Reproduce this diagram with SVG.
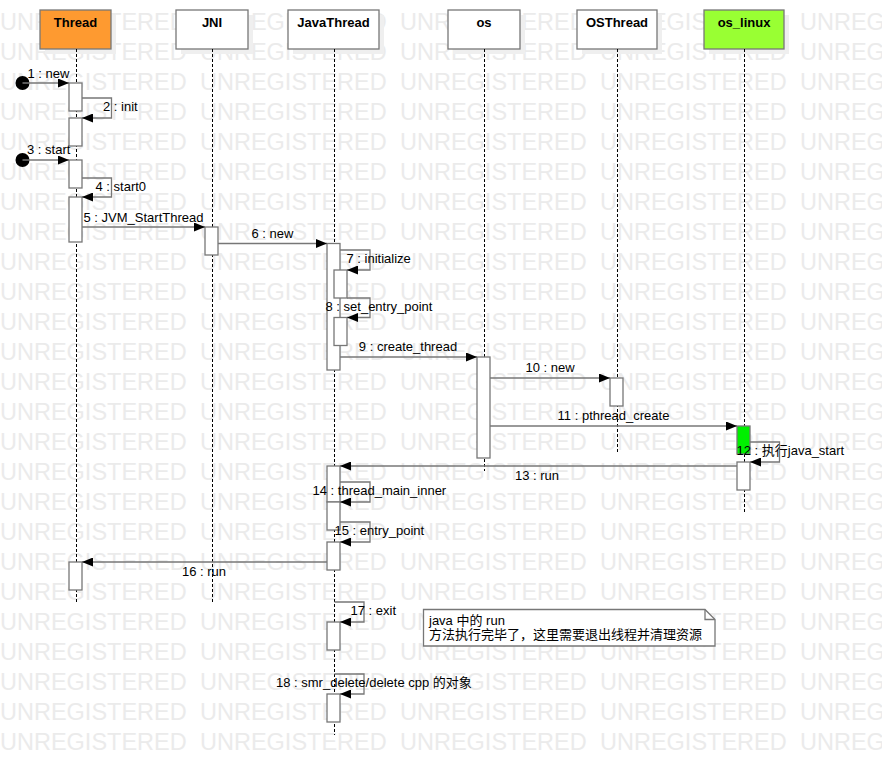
<svg xmlns="http://www.w3.org/2000/svg" xmlns:xlink="http://www.w3.org/1999/xlink" width="882" height="776" viewBox="0 0 882 776">
<style>
.wm{font-family:"Liberation Sans",Arial,sans-serif;font-size:23.5px;fill:#ebebeb}
.hbox{stroke:#777;stroke-width:1.3}
.shadow{fill:#efefef}
.hl{font-family:"Liberation Sans",Arial,sans-serif;font-size:13px;font-weight:bold;text-anchor:middle;fill:#000}
.life{stroke:#000;stroke-width:1;stroke-dasharray:3 2;fill:none}
.act{fill:#fff;stroke:#777;stroke-width:1.3}
.msg{fill:none;stroke:#777;stroke-width:1.3;marker-end:url(#ah)}
.lbl{font-family:"Liberation Sans",Arial,"Noto Sans CJK SC",sans-serif;font-size:13px;fill:#000}
.mid{text-anchor:middle}
</style>
<defs>
<marker id="ah" markerUnits="userSpaceOnUse" markerWidth="11" markerHeight="9" refX="11" refY="4.5" orient="auto">
<path d="M0,0 L11,4.5 L0,9 Z" fill="#000"/>
</marker>
<text id="wmrow" class="wm"><tspan x="0">UNREGISTERED</tspan><tspan x="200">UNREGISTERED</tspan><tspan x="400">UNREGISTERED</tspan><tspan x="600">UNREGISTERED</tspan><tspan x="800">UNREGISTERED</tspan></text>
</defs>
<rect width="882" height="776" fill="#fff"/>
<g id="watermark">
<use xlink:href="#wmrow" y="30"/><use xlink:href="#wmrow" y="60"/><use xlink:href="#wmrow" y="90"/><use xlink:href="#wmrow" y="120"/><use xlink:href="#wmrow" y="150"/>
<use xlink:href="#wmrow" y="180"/><use xlink:href="#wmrow" y="210"/><use xlink:href="#wmrow" y="240"/><use xlink:href="#wmrow" y="270"/><use xlink:href="#wmrow" y="300"/>
<use xlink:href="#wmrow" y="330"/><use xlink:href="#wmrow" y="360"/><use xlink:href="#wmrow" y="390"/><use xlink:href="#wmrow" y="420"/><use xlink:href="#wmrow" y="450"/>
<use xlink:href="#wmrow" y="480"/><use xlink:href="#wmrow" y="510"/><use xlink:href="#wmrow" y="540"/><use xlink:href="#wmrow" y="570"/><use xlink:href="#wmrow" y="600"/>
<use xlink:href="#wmrow" y="630"/><use xlink:href="#wmrow" y="660"/><use xlink:href="#wmrow" y="690"/><use xlink:href="#wmrow" y="720"/><use xlink:href="#wmrow" y="750"/>
</g>

<g id="Thread">
<rect class="shadow" x="45" y="15" width="71" height="39"/>
<rect class="hbox" x="40" y="10" width="71" height="39" fill="#fe9a30"/>
<text class="hl" x="75.5" y="27.3">Thread</text>
<line class="life" x1="76.5" y1="49" x2="76.5" y2="603"/>
<rect class="act" x="69" y="83" width="13" height="28"/>
<rect class="act" x="69" y="118" width="13" height="28"/>
<rect class="act" x="69" y="160" width="13" height="28"/>
<rect class="act" x="69" y="197" width="13" height="45"/>
<rect class="act" x="69" y="562" width="13" height="28"/>
</g>

<g id="JNI">
<rect class="shadow" x="181" y="15" width="72" height="39"/>
<rect class="hbox" x="176" y="10" width="72" height="39" fill="#fff"/>
<text class="hl" x="212" y="27.3">JNI</text>
<line class="life" x1="212.5" y1="49" x2="212.5" y2="603"/>
<rect class="act" x="205" y="227" width="13" height="28"/>
</g>

<g id="JavaThread">
<rect class="shadow" x="293" y="15" width="91" height="39"/>
<rect class="hbox" x="288" y="10" width="91" height="39" fill="#fff"/>
<text class="hl" x="333.5" y="27.3">JavaThread</text>
<line class="life" x1="334.5" y1="49" x2="334.5" y2="735"/>
<rect class="act" x="327" y="243.5" width="13" height="126.5"/>
<rect class="act" x="334" y="270" width="13" height="28"/>
<rect class="act" x="334" y="317.5" width="13" height="28"/>
<rect class="act" x="327" y="466" width="13" height="36"/>
<rect class="act" x="327" y="502" width="13" height="28"/>
<rect class="act" x="327" y="542" width="13" height="28"/>
<rect class="act" x="327" y="622" width="13" height="28"/>
<rect class="act" x="327" y="694" width="13" height="28"/>
</g>

<g id="os">
<rect class="shadow" x="453" y="15" width="72" height="39"/>
<rect class="hbox" x="448" y="10" width="72" height="39" fill="#fff"/>
<text class="hl" x="484" y="27.3">os</text>
<line class="life" x1="484.5" y1="49" x2="484.5" y2="471"/>
<rect class="act" x="477" y="357" width="13" height="101"/>
</g>

<g id="OSThread">
<rect class="shadow" x="582" y="15" width="80" height="39"/>
<rect class="hbox" x="577" y="10" width="80" height="39" fill="#fff"/>
<text class="hl" x="617" y="27.3">OSThread</text>
<line class="life" x1="617.5" y1="49" x2="617.5" y2="454"/>
<rect class="act" x="610" y="378" width="13" height="28"/>
</g>

<g id="os_linux">
<rect class="shadow" x="709" y="15" width="80" height="39"/>
<rect class="hbox" x="704" y="10" width="80" height="39" fill="#99ff33"/>
<text class="hl" x="744" y="27.3">os_linux</text>
<line class="life" x1="744.5" y1="49" x2="744.5" y2="514"/>
<rect class="act" x="737" y="426" width="13" height="28" fill="#00f000" style="fill:#00f000"/>
<rect class="act" x="737" y="462" width="13" height="28"/>
</g>

<g id="note">
<path d="M423.5,609.5 H705 L715,619.5 V646 H423.5 Z" fill="#fff" stroke="#777" stroke-width="1.3"/>
<path d="M705,609.5 V619.5 H715" fill="none" stroke="#777" stroke-width="1.3"/>
<text class="lbl" x="429" y="625">java 中的 run</text>
<text class="lbl" x="429" y="638.5">方法执行完毕了，这里需要退出线程并清理资源</text>
</g>

<g id="connectors">
<circle cx="22.5" cy="83" r="7" fill="#000"/>
<path class="msg" d="M22.5,83 H69"/>
<text class="lbl" x="27.5" y="77.5">1 : new</text>

<path class="msg" d="M82,98 H111.5 V118 H82"/>
<text class="lbl" x="103" y="110.5">2 : init</text>

<circle cx="22.5" cy="160" r="7" fill="#000"/>
<path class="msg" d="M22.5,160 H69"/>
<text class="lbl" x="27" y="154">3 : start</text>

<path class="msg" d="M82,178 H111.5 V197 H82"/>
<text class="lbl" x="95.5" y="190.5">4 : start0</text>

<path class="msg" d="M82,227 H205"/>
<text class="lbl mid" x="143.5" y="221.5">5 : JVM_StartThread</text>

<path class="msg" d="M218,243.5 H327"/>
<text class="lbl mid" x="272.5" y="237.5">6 : new</text>

<path class="msg" d="M340,250 H370 V270 H347"/>
<text class="lbl" x="346.5" y="262.5">7 : initialize</text>

<path class="msg" d="M347,298 H370 V317.5 H347"/>
<text class="lbl" x="325.5" y="311">8 : set_entry_point</text>

<path class="msg" d="M340,357 H477"/>
<text class="lbl mid" x="408" y="350.5">9 : create_thread</text>

<path class="msg" d="M490,378 H610"/>
<text class="lbl mid" x="550" y="371.5">10 : new</text>

<path class="msg" d="M490,426 H737"/>
<text class="lbl mid" x="613.5" y="420">11 : pthread_create</text>

<path class="msg" d="M750,442 H779.5 V462 H750"/>
<text class="lbl" x="736.5" y="455">12 : 执行java_start</text>

<path class="msg" d="M737,466 H340"/>
<text class="lbl mid" x="537" y="479.5">13 : run</text>

<path class="msg" d="M340,482 H370 V502 H340"/>
<text class="lbl" x="312.5" y="495">14 : thread_main_inner</text>

<path class="msg" d="M340,522 H370 V542 H340"/>
<text class="lbl" x="334.5" y="535">15 : entry_point</text>

<path class="msg" d="M327,562 H82"/>
<text class="lbl mid" x="204" y="576">16 : run</text>

<path class="msg" d="M334.5,602 H364 V622 H340"/>
<text class="lbl" x="350.5" y="614.5">17 : exit</text>

<path class="msg" d="M334.5,674 H364 V694 H340"/>
<text class="lbl" x="276" y="687">18 : smr_delete/delete cpp 的对象</text>
</g>
</svg>
